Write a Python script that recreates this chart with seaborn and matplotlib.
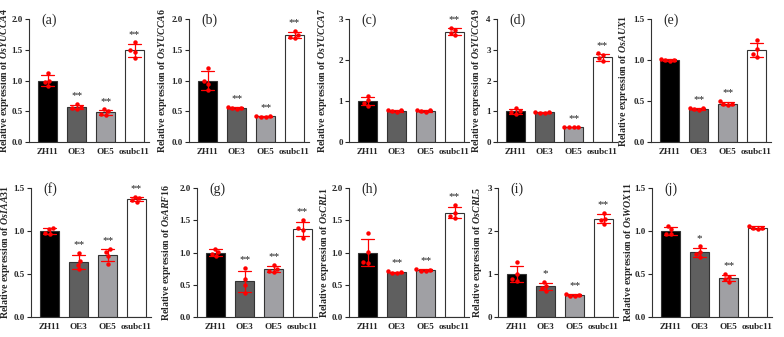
import pandas as pd
import numpy as np
import matplotlib
matplotlib.use('Agg')
import matplotlib.pyplot as plt
import seaborn as sns

# Dados (réplicas)
grupos = ['ZH11', 'OE3', 'OE5', 'osubc11']
cores = ['#000000', '#5f5f5f', '#a0a0a4', '#ffffff']

genes = ['OsYUCCA4', 'OsYUCCA6', 'OsYUCCA7', 'OsYUCCA9', 'OsAUX1',
         'OsIAA31', 'OsARF16', 'OsCRL1', 'OsCRL5', 'OsWOX11']
letras = ['(a)', '(b)', '(c)', '(d)', '(e)', '(f)', '(g)', '(h)', '(i)', '(j)']

yucca4 = [[1.12, 1.00, 0.97, 0.91], [0.62, 0.57, 0.55, 0.54],
          [0.53, 0.50, 0.45, 0.44], [1.62, 1.50, 1.47, 1.37]]
yucca6 = [[1.20, 1.00, 0.95, 0.85], [0.57, 0.56, 0.55, 0.54],
          [0.43, 0.42, 0.41, 0.41], [1.81, 1.74, 1.71, 1.69]]
yucca7 = [[1.13, 1.02, 0.96, 0.89], [0.78, 0.77, 0.75, 0.74],
          [0.79, 0.77, 0.75, 0.73], [2.79, 2.73, 2.66, 2.60]]
yucca9 = [[1.10, 1.00, 0.97, 0.92], [0.98, 0.97, 0.95, 0.95],
          [0.50, 0.49, 0.48, 0.48], [2.88, 2.82, 2.72, 2.62]]
aux1 = [[1.01, 1.00, 1.00, 0.99], [0.42, 0.41, 0.40, 0.39],
        [0.50, 0.46, 0.46, 0.45], [1.24, 1.13, 1.07, 1.04]]
iaa31 = [[1.03, 1.02, 0.98, 0.97], [0.74, 0.65, 0.61, 0.56],
         [0.79, 0.76, 0.71, 0.62], [1.40, 1.38, 1.36, 1.34]]
arf16 = [[1.06, 1.01, 0.98, 0.95], [0.76, 0.59, 0.50, 0.37],
         [0.81, 0.74, 0.71, 0.70], [1.50, 1.38, 1.35, 1.23]]
crl1 = [[1.30, 1.01, 0.85, 0.84], [0.71, 0.69, 0.68, 0.68],
        [0.74, 0.73, 0.72, 0.72], [1.73, 1.62, 1.57, 1.54]]
crl5 = [[1.27, 1.00, 0.88, 0.84], [0.82, 0.73, 0.68, 0.61],
        [0.53, 0.51, 0.50, 0.49], [2.42, 2.29, 2.25, 2.17]]
wox11 = [[1.06, 1.02, 0.97, 0.96], [0.82, 0.76, 0.73, 0.70],
         [0.50, 0.47, 0.44, 0.41], [1.06, 1.04, 1.03, 1.02]]
replicas = [yucca4, yucca6, yucca7, yucca9, aux1, iaa31, arf16, crl1, crl5, wox11]

# Significância por grupo
sinais = [['', '**', '**', '**'], ['', '**', '**', '**'], ['', '', '', '**'],
          ['', '', '**', '**'], ['', '**', '**', ''], ['', '**', '**', '**'],
          ['', '**', '**', '**'], ['', '**', '**', '**'], ['', '*', '**', '**'],
          ['', '*', '**', '']]

# Eixo y de cada painel
ylim_topo = [2.0, 2.0, 3, 4, 1.5, 1.5, 2.0, 2.0, 3, 1.5]
passo_y = [0.5, 0.5, 1, 1, 0.5, 0.5, 0.5, 0.5, 1, 0.5]
formato_y = ['%.1f', '%.1f', '%d', '%d', '%.1f', '%.1f', '%.1f', '%.1f', '%d', '%.1f']

# Configurações gerais
sns.set_style('ticks')
plt.rcParams['font.family'] = ['Liberation Serif', 'DejaVu Serif']
plt.rcParams['mathtext.fontset'] = 'custom'
plt.rcParams['mathtext.it'] = 'Liberation Serif:italic:bold'
plt.rcParams['mathtext.rm'] = 'Liberation Serif:bold'
plt.rcParams['mathtext.bf'] = 'Liberation Serif:bold'

W, H = 784, 337
fig = plt.figure(figsize=(W / 100, H / 100), dpi=100)

# posições dos eixos em pixels (esquerda, topo, base) e distância do rótulo y
esquerdas = [29, 189, 349, 497, 651, 31, 197, 349, 498, 652]
linhas = [(19, 142)] * 5 + [(188, 317)] * 5
dist_rotulo = [17.5, 20, 20, 14, 21, 19, 24, 18, 14, 17]
largura = 120

for i, gene in enumerate(genes):
    topo, base = linhas[i]
    ax = fig.add_axes([esquerdas[i] / W, (H - base) / H, largura / W, (base - topo) / H])

    df = pd.DataFrame({
        'grupo': np.repeat(grupos, [len(r) for r in replicas[i]]),
        'valor': np.concatenate(replicas[i]),
    })

    sns.barplot(data=df, x='grupo', y='valor', hue='grupo', order=grupos,
                hue_order=grupos, palette=cores, errorbar='sd', capsize=0.45,
                err_kws={'color': 'red', 'linewidth': 0.9}, edgecolor='#333333',
                linewidth=0.8, width=0.66, legend=False, ax=ax, zorder=2)
    sns.swarmplot(data=df, x='grupo', y='valor', order=grupos, color='red',
                  size=3.2, ax=ax, zorder=4)

    # asteriscos acima das barras de erro
    resumo = df.groupby('grupo')['valor'].agg(['mean', 'std', 'max']).reindex(grupos)
    for j, g in enumerate(grupos):
        if sinais[i][j]:
            y_txt = max(resumo.loc[g, 'mean'] + resumo.loc[g, 'std'], resumo.loc[g, 'max'])
            ax.text(j, y_txt + ylim_topo[i] * 0.03, sinais[i][j], ha='center',
                    va='bottom', fontsize=8, color='#222222')

    ax.set_xlim(-0.65, 3.5)
    ax.set_ylim(0, ylim_topo[i])
    ax.set_yticks(np.arange(0, ylim_topo[i] + 1e-9, passo_y[i]))
    ax.yaxis.set_major_formatter(matplotlib.ticker.FormatStrFormatter(formato_y[i]))
    ax.set_xlabel('')
    ax.set_ylabel('Relative expression of $\\mathit{' + gene + '}$',
                  fontsize=7.1, fontweight='bold')
    ax.yaxis.set_label_coords(-dist_rotulo[i] / largura, 0.5)
    ax.tick_params(axis='y', length=3, width=0.8, pad=1.5, labelsize=6.5)
    ax.tick_params(axis='x', length=0, pad=4, labelsize=6.6)
    for lbl in ax.get_xticklabels() + ax.get_yticklabels():
        lbl.set_fontweight('bold')
    for lado in ['top', 'right']:
        ax.spines[lado].set_visible(False)
    for lado in ['left', 'bottom']:
        ax.spines[lado].set_linewidth(0.8)
        ax.spines[lado].set_color('#333333')

    ax.text(0.1, 0.99, letras[i], transform=ax.transAxes, ha='left', va='center',
            fontsize=10)

fig.savefig('out.png', dpi=100)
